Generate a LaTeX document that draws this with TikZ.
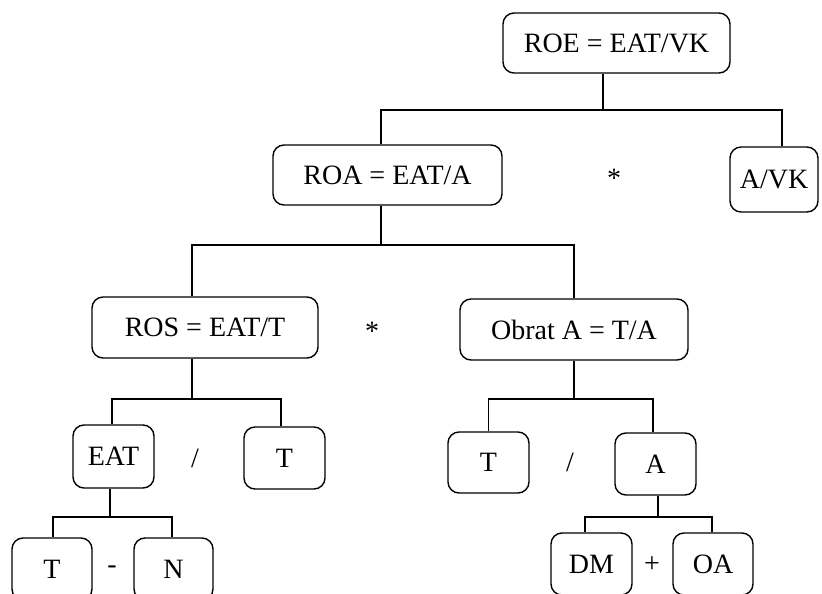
\documentclass[tikz,border=0pt]{standalone}
\usepackage{fontspec}
\setmainfont{Liberation Serif}
\begin{document}
\begin{tikzpicture}[x=1pt,y=-1pt,
  box/.style={draw,line width=1.4pt,rounded corners=11pt,inner sep=0pt,font=\fontsize{28}{32}\selectfont},
  op/.style={inner sep=0pt,font=\fontsize{28}{32}\selectfont},
  conn/.style={line width=1.4pt}]
\useasboundingbox (0,0) rectangle (822,594);
\clip (0,0) rectangle (822,594);
\node[box,minimum width=227pt,minimum height=60pt] (roe) at (616.5,43) {ROE = EAT/VK};
\node[box,minimum width=88pt,minimum height=65pt] (avk) at (774,179.5) {A/VK};
\node[box,minimum width=229pt,minimum height=60pt] (roa) at (387.5,175) {ROA = EAT/A};
\node[box,minimum width=226pt,minimum height=61pt] (ros) at (205,327.5) {ROS = EAT/T};
\node[box,minimum width=228pt,minimum height=61pt] (obr) at (574,329.5) {Obrat A = T/A};
\node[box,minimum width=81pt,minimum height=63pt] (eat) at (113.5,456.5) {EAT};
\node[box,minimum width=81pt,minimum height=62pt] (ta) at (284.5,458) {T};
\node[box,minimum width=81pt,minimum height=61pt] (tb) at (488.5,462.5) {T};
\node[box,minimum width=81pt,minimum height=62pt] (a) at (655.5,464) {A};
\node[box,minimum width=80pt,minimum height=62pt] (tc) at (52,569) {T};
\node[box,minimum width=79pt,minimum height=62pt] (n) at (173.5,569) {N};
\node[box,minimum width=81pt,minimum height=62pt] (dm) at (591.5,564) {DM};
\node[box,minimum width=80pt,minimum height=62pt] (oa) at (713,564) {OA};
\node[op] (s1) at (614,178) {*};
\node[op] (s2) at (372,331) {*};
\node[op] (d1) at (195,458) {/};
\node[op] (d2) at (570,462) {/};
\node[op] (m1) at (112,570) {-};
\node[op] (p1) at (652,565) {+};
% connectors
\coordinate (j1) at (603,110);
\draw[conn] ([xshift=-13.5pt]roe.south) -- (j1);
\draw[conn] (j1) -| ([xshift=-6.5pt]roa.north);
\draw[conn] (j1) -| ([xshift=8pt]avk.north);
\coordinate (j2) at (381,245);
\draw[conn] ([xshift=-6.5pt]roa.south) -- (j2);
\draw[conn] (j2) -| ([xshift=-13pt]ros.north);
\draw[conn] (j2) -| (obr.north);
\coordinate (j3) at (192,399);
\draw[conn] ([xshift=-13pt]ros.south) -- (j3);
\draw[conn] (j3) -| ([xshift=-1.5pt]eat.north);
\draw[conn] (j3) -| ([xshift=-3.5pt]ta.north);
\coordinate (j4) at (574,399);
\draw[conn] (obr.south) -- (j4);
\draw[conn] (j4) -| (tb.north);
\draw[conn] (j4) -| ([xshift=-2.5pt]a.north);
\coordinate (j5) at (110,517);
\draw[conn] ([xshift=-3.5pt]eat.south) -- (j5);
\draw[conn] (j5) -| ([xshift=1pt]tc.north);
\draw[conn] (j5) -| ([xshift=-1.5pt]n.north);
\coordinate (j6) at (658,517);
\draw[conn] ([xshift=2.5pt]a.south) -- (j6);
\draw[conn] (j6) -| ([xshift=-6.5pt]dm.north);
\draw[conn] (j6) -| ([xshift=-1pt]oa.north);
\end{tikzpicture}
\end{document}
